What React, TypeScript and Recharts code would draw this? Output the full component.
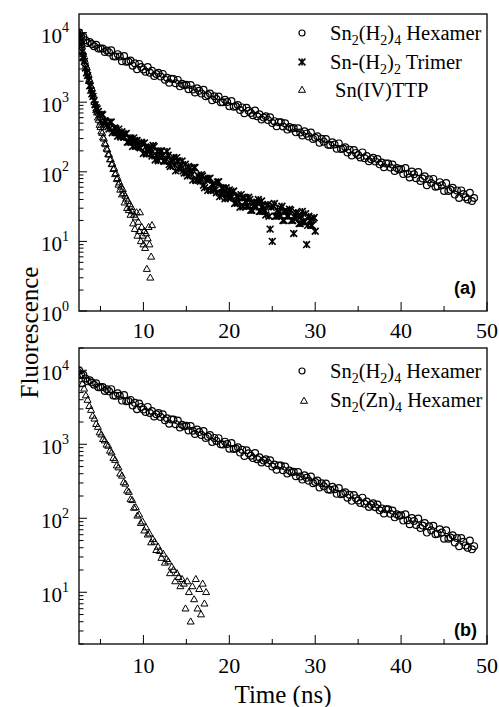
import React from "react";
import {
  ScatterChart,
  Scatter,
  XAxis,
  YAxis,
  ReferenceArea,
  Legend,
} from "recharts";

// all decays share the same start channel
const startTime = 2.5;

// Sn2(H2)4 hexamer, 0.25 ns bins (same trace in both panels)
const hexamerStep = 0.25;
const hexamerCounts = [
  10000, 8690, 8710, 7760, 7080, 7330, 6840, 6380, 6680, 5890, 5890, 5920, 5250, 5520, 5190,
  5560, 4570, 4520, 4900, 4520, 3890, 4620, 3800, 3850, 3980, 3350, 3630, 2980, 3550, 3200,
  2950, 2740, 3200, 2650, 2820, 2380, 2540, 2650, 2340, 2550, 2110, 2250, 1900, 2170, 2160,
  1870, 2090, 1690, 1840, 1750, 1780, 1540, 1760, 1520, 1380, 1580, 1460, 1330, 1510, 1220,
  1270, 1330, 1070, 1220, 1110, 1210, 1000, 995, 1085, 1005, 871, 1041, 861, 876, 912,
  772, 842, 696, 832, 755, 700, 650, 760, 628, 669, 566, 603, 628, 557, 606,
  501, 534, 453, 517, 516, 447, 499, 404, 441, 419, 426, 369, 422, 366, 333,
  381, 353, 321, 367, 297, 309, 323, 261, 298, 271, 295, 244, 243, 266, 247,
  214, 256, 212, 216, 225, 190, 208, 172, 206, 187, 174, 161, 190, 157, 168,
  142, 152, 159, 141, 153, 128, 136, 116, 132, 132, 115, 127, 103, 113, 108,
  110, 93, 113, 94, 83, 101, 92, 81, 99, 74, 80, 86, 64, 78, 69,
  79, 61, 62, 71, 64, 53, 69, 53, 55, 59, 47, 54, 42, 54, 48,
  43, 40, 50, 38, 42,
];

// Sn-(H2)2 trimer, 0.125 ns bins
const trimerStep = 0.125;
const trimerCounts = [
  9900, 8280, 6750, 5320, 4500, 3870, 3100, 2640, 2420, 2060,
  1720, 1485, 1320, 1212, 1070, 917, 835, 801, 735, 662,
  530, 674, 660, 494, 543, 527, 473, 445, 412, 517,
  518, 365, 384, 428, 417, 365, 324, 410, 355, 316,
  376, 331, 313, 348, 355, 267, 268, 306, 295, 266,
  231, 307, 282, 232, 281, 253, 227, 221, 267, 253,
  183, 260, 227, 180, 209, 215, 224, 182, 168, 239,
  230, 148, 173, 197, 144, 164, 198, 200, 173, 142,
  143, 155, 197, 173, 127, 119, 143, 151, 161, 126,
  103, 160, 143, 110, 117, 124, 143, 103, 96, 128,
  97, 87, 119, 112, 103, 92, 76, 115, 115, 75,
  77, 88, 82, 73, 91, 87, 64, 59, 80, 76,
  54, 79, 81, 54, 66, 65, 58, 55, 50, 71,
  72, 44, 49, 58, 58, 48, 41, 59, 48, 42,
  55, 46, 43, 51, 53, 35, 36, 45, 43, 37,
  31, 47, 42, 32, 43, 37, 32, 32, 43, 40,
  28, 28, 35, 37, 33, 31, 36, 40, 27, 27,
  38, 32, 29, 27, 24, 33, 34, 23, 15, 31,
  10, 32, 35, 23, 23, 28, 26, 24, 30, 32,
  20, 20, 27, 27, 23, 23, 29, 28, 20, 20,
  13, 22, 26, 25, 23, 18, 18, 23, 27, 19,
  19, 25, 9, 17, 23, 20, 17, 17, 21, 22,
  14,
];

// Sn(IV)TTP monomer, 0.1 ns bins
const ttpStep = 0.1;
const ttpCounts = [
  9700, 8800, 7300, 6600, 5450, 4900, 4200, 3900, 3350, 3150, 2700, 2500, 2150, 1990, 1700,
  1580, 1320, 1200, 1000, 910, 760, 705, 598, 555, 470, 438, 378, 360, 310, 298,
  255, 248, 214, 208, 178, 176, 150, 151, 128, 130, 109, 112, 92, 95, 78,
  81, 65, 70, 55, 61, 47, 56, 49, 36, 45, 41, 30, 38, 28, 34,
  24, 31, 27, 18, 24, 15, 22, 26, 12, 19, 14, 26, 10, 16, 12,
  9, 14, 8, 13, 4, 11, 16, 9, 3, 6, 17,
];

// Sn2(Zn)4 hexamer, 0.2 ns bins
const znStep = 0.2;
const znCounts = [
  9800, 8300, 6550, 5620, 4550, 3960, 3270, 2900, 2420, 2210, 1870, 1710, 1440, 1350, 1170,
  1120, 985, 950, 815, 770, 650, 612, 515, 485, 400, 375, 305, 292, 236, 226,
  180, 175, 138, 140, 108, 112, 86, 90, 68, 75, 60, 62, 47, 52, 48,
  37, 41, 36, 29, 33, 25, 28, 26, 18, 22, 20, 14, 18, 16, 12,
  15, 13, 6, 14, 10, 4, 12, 8, 15, 6, 11, 5, 13, 7, 10,
];

const xTicks = [5, 10, 15, 20, 25, 30, 35, 40, 45, 50];

const SERIF = '"Liberation Serif", "Times New Roman", serif';
const SANS = '"Liberation Sans", Arial, sans-serif';

const toPoints = (counts: number[], step: number) =>
  counts.map((v, i) => ({ t: Number((startTime + i * step).toFixed(3)), v }));

const hexamer = toPoints(hexamerCounts, hexamerStep);
const trimer = toPoints(trimerCounts, trimerStep);
const ttp = toPoints(ttpCounts, ttpStep);
const zn = toPoints(znCounts, znStep);

// 1..9 x 10^k inside the domain
const logTicks = (lo: number, hi: number) => {
  const out: number[] = [];
  for (let d = 1; d <= 10000; d *= 10) {
    for (let m = 1; m <= 9; m++) {
      const v = m * d;
      if (v >= lo && v <= hi) out.push(v);
    }
  }
  return out;
};

const Circle = ({ cx, cy, r = 3.4 }: any) => (
  <circle cx={cx} cy={cy} r={r} fill="none" stroke="#000" strokeWidth={1.2} />
);

const Triangle = ({ cx, cy }: any) => (
  <polygon
    points={`${cx},${cy - 3.8} ${cx + 3.5},${cy + 2.3} ${cx - 3.5},${cy + 2.3}`}
    fill="none"
    stroke="#000"
    strokeWidth={1}
  />
);

const Star = ({ cx, cy }: any) => {
  const s = 3.4;
  return (
    <g stroke="#000" strokeWidth={1.6}>
      <line x1={cx} y1={cy - s} x2={cx} y2={cy + s} />
      <line x1={cx - s} y1={cy - s} x2={cx + s} y2={cy + s} />
      <line x1={cx - s} y1={cy + s} x2={cx + s} y2={cy - s} />
    </g>
  );
};

const XTick = ({ x, y, payload, labelDy }: any) => {
  const v = payload.value;
  const major = v % 10 === 0;
  return (
    <g>
      <line x1={x} x2={x} y1={y} y2={y - (major ? 9 : 5)} stroke="#000" strokeWidth={1} />
      {major && (
        <text x={x} y={y + labelDy} textAnchor="middle" fontFamily={SERIF} fontSize={22} fill="#000">
          {v}
        </text>
      )}
    </g>
  );
};

const YTick = ({ x, y, payload }: any) => {
  const e = Math.log10(payload.value);
  const major = Math.abs(e - Math.round(e)) < 1e-9;
  return (
    <g>
      <line x1={x} x2={x + (major ? 8 : 4.5)} y1={y} y2={y} stroke="#000" strokeWidth={1} />
      {major && (
        <text x={x - 10} y={y + 10} textAnchor="end" fontFamily={SERIF} fontSize={21} fill="#000">
          10
          <tspan dy={-10.5} fontSize={14}>
            {Math.round(e)}
          </tspan>
        </text>
      )}
    </g>
  );
};

const Sub = ({ children }: any) => (
  <span style={{ fontSize: 14, position: "relative", top: 5 }}>{children}</span>
);

const LegendBox = ({ items }: { items: { marker: any; label: any }[] }) => (
  <div style={{ fontFamily: SERIF, fontSize: 20.5, lineHeight: "28.5px", color: "#000" }}>
    {items.map((it, i) => (
      <div key={i} style={{ display: "flex", alignItems: "flex-start", height: 28.5 }}>
        <svg width={20} height={28.5} style={{ flex: "none" }}>
          {it.marker}
        </svg>
        <div style={{ marginLeft: 18, whiteSpace: "nowrap" }}>{it.label}</div>
      </div>
    ))}
  </div>
);

const legendA = [
  {
    marker: <Circle cx={10} cy={14} r={3} />,
    label: (
      <>
        Sn<Sub>2</Sub>(H<Sub>2</Sub>)<Sub>4</Sub> Hexamer
      </>
    ),
  },
  {
    marker: <Star cx={10} cy={14} />,
    label: (
      <>
        Sn-(H<Sub>2</Sub>)<Sub>2</Sub> Trimer
      </>
    ),
  },
  {
    marker: <Triangle cx={10} cy={14} />,
    label: <span style={{ marginLeft: 5 }}>Sn(IV)TTP</span>,
  },
];

const legendB = [
  {
    marker: <Circle cx={10} cy={14} r={3} />,
    label: (
      <>
        Sn<Sub>2</Sub>(H<Sub>2</Sub>)<Sub>4</Sub> Hexamer
      </>
    ),
  },
  {
    marker: <Triangle cx={12} cy={15} />,
    label: (
      <>
        Sn<Sub>2</Sub>(Zn)<Sub>4</Sub> Hexamer
      </>
    ),
  },
];

const xAxisProps = {
  dataKey: "t",
  type: "number" as const,
  domain: [2.5, 50],
  allowDataOverflow: true,
  ticks: xTicks,
  interval: 0 as const,
  tickLine: false,
  axisLine: false,
  tickSize: 0,
  tickMargin: 0,
};

const Panel = ({
  top,
  height,
  marginTop,
  xHeight,
  yDomain,
  labelDy,
  legendTop,
  legendItems,
  children,
}: any) => (
  <div style={{ position: "absolute", left: 0, top }}>
    <ScatterChart
      width={499}
      height={height}
      margin={{ top: marginTop, right: 12, bottom: 0, left: 0 }}
    >
      <XAxis {...xAxisProps} height={xHeight} tick={(p: any) => <XTick {...p} labelDy={labelDy} />} />
      <YAxis
        dataKey="v"
        type="number"
        scale="log"
        domain={yDomain}
        allowDataOverflow
        ticks={logTicks(yDomain[0], yDomain[1])}
        interval={0}
        tick={(p: any) => <YTick {...p} />}
        tickLine={false}
        axisLine={false}
        tickSize={0}
        tickMargin={0}
        width={79}
      />
      <ReferenceArea
        x1={2.5}
        x2={50}
        y1={yDomain[0]}
        y2={yDomain[1]}
        fill="none"
        stroke="#222"
        strokeWidth={1.5}
      />
      {children}
      <Legend
        layout="vertical"
        align="center"
        verticalAlign="middle"
        wrapperStyle={{ top: legendTop, left: 292, width: 200 }}
        content={() => <LegendBox items={legendItems} />}
      />
    </ScatterChart>
  </div>
);

export default function App() {
  return (
    <div
      style={{
        position: "absolute",
        left: 0,
        top: 0,
        width: 499,
        height: 707,
        background: "#fff",
        overflow: "hidden",
      }}
    >
      <Panel
        top={0}
        height={345}
        marginTop={14}
        xHeight={34}
        yDomain={[1, 18500]}
        labelDy={27}
        legendTop={19}
        legendItems={legendA}
      >
        <Scatter name="Sn2(H2)4 Hexamer" data={hexamer} shape={(p: any) => <Circle cx={p.cx} cy={p.cy} />} isAnimationActive={false} />
        <Scatter name="Sn-(H2)2 Trimer" data={trimer} shape={(p: any) => <Star {...p} />} isAnimationActive={false} />
        <Scatter name="Sn(IV)TTP" data={ttp} shape={(p: any) => <Triangle {...p} />} isAnimationActive={false} />
      </Panel>
      <Panel
        top={340}
        height={367}
        marginTop={8}
        xHeight={63}
        yDomain={[2, 20000]}
        labelDy={29}
        legendTop={17}
        legendItems={legendB}
      >
        <Scatter name="Sn2(H2)4 Hexamer" data={hexamer} shape={(p: any) => <Circle cx={p.cx} cy={p.cy} />} isAnimationActive={false} />
        <Scatter name="Sn2(Zn)4 Hexamer" data={zn} shape={(p: any) => <Triangle {...p} />} isAnimationActive={false} />
      </Panel>

      <div
        style={{
          position: "absolute",
          left: 454,
          top: 279,
          fontFamily: SANS,
          fontWeight: "bold",
          fontSize: 18,
          lineHeight: "18px",
        }}
      >
        (a)
      </div>
      <div
        style={{
          position: "absolute",
          left: 454,
          top: 621,
          fontFamily: SANS,
          fontWeight: "bold",
          fontSize: 18,
          lineHeight: "18px",
        }}
      >
        (b)
      </div>

      <div
        style={{
          position: "absolute",
          left: -71,
          top: 319.5,
          width: 200,
          height: 25,
          textAlign: "center",
          fontFamily: SERIF,
          fontSize: 25,
          lineHeight: "25px",
          transform: "rotate(-90deg)",
        }}
      >
        Fluorescence
      </div>
      <div
        style={{
          position: "absolute",
          left: 183,
          top: 682,
          width: 200,
          textAlign: "center",
          fontFamily: SERIF,
          fontSize: 25,
          lineHeight: "25px",
        }}
      >
        Time (ns)
      </div>
    </div>
  );
}
